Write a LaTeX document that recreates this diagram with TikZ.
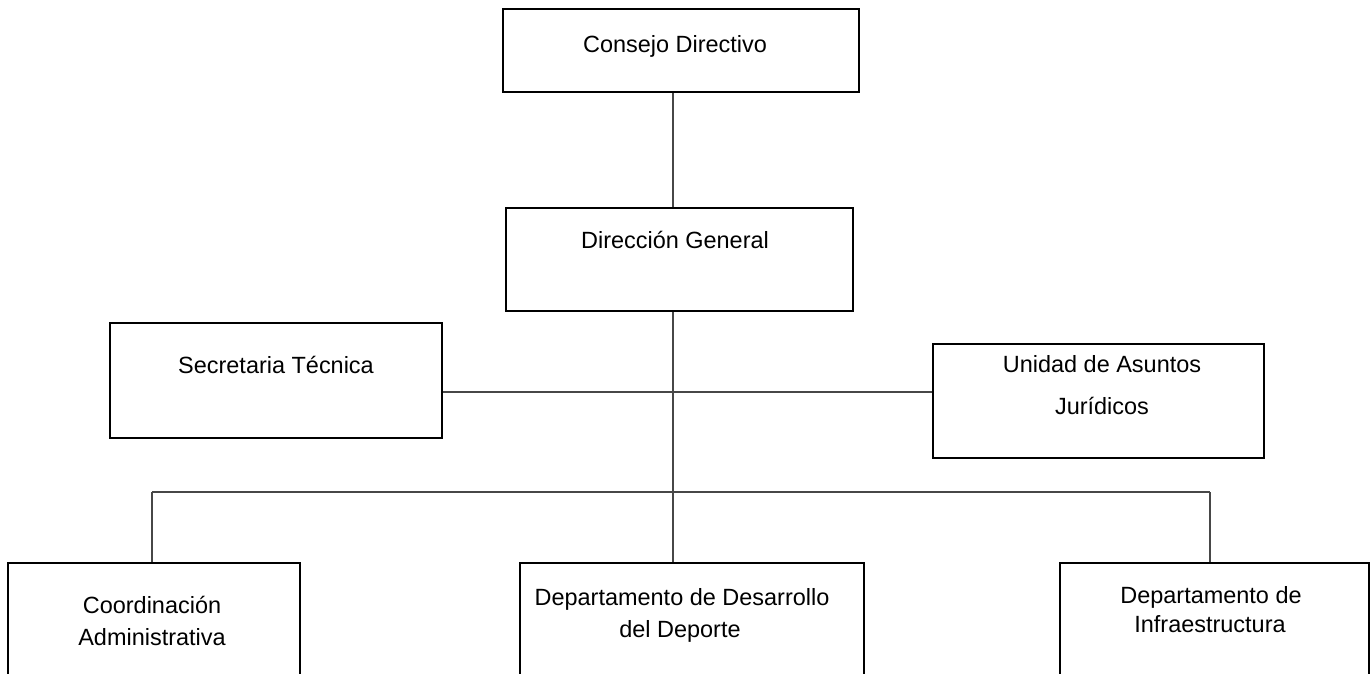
\documentclass[tikz,border=0pt]{standalone}
\usepackage{fontspec}
\setmainfont{Liberation Sans}
\begin{document}
\begin{tikzpicture}[x=0.75pt,y=-0.75pt,
  box/.style={draw=black,line width=1.5pt,inner sep=0pt,anchor=north west},
  lbl/.style={font=\fontsize{17.6pt}{23pt}\selectfont,align=center,inner sep=0pt,anchor=base},
  link/.style={draw=black!72,line width=1.1pt}]
\clip (0,0) rectangle (1370,674);

% boxes (top-left corner, size in px)
\node[box,minimum width=356*0.75pt,minimum height=83*0.75pt]  (cd) at (502,8) {};
\node[box,minimum width=347*0.75pt,minimum height=103*0.75pt] (dg) at (505,207) {};
\node[box,minimum width=332*0.75pt,minimum height=115*0.75pt] (st) at (109,322) {};
\node[box,minimum width=331*0.75pt,minimum height=114*0.75pt] (ua) at (932,343) {};
\node[box,minimum width=292*0.75pt,minimum height=160*0.75pt] (ca) at (7,562) {};
\node[box,minimum width=344*0.75pt,minimum height=160*0.75pt] (dd) at (519,562) {};
\node[box,minimum width=309*0.75pt,minimum height=160*0.75pt] (di) at (1059,562) {};

% labels
\node[lbl] (tcd) at (675,53) {Consejo Directivo};
\node[lbl] (tdg) at (675,248) {Dirección General};
\node[lbl] (tst) at (276,373) {Secretaria Técnica};
\node[lbl] (tua1) at (1102,372) {Unidad de Asuntos};
\node[lbl] (tua2) at (1102,414) {Jurídicos};
\node[lbl] (tca1) at (152,613) {Coordinación};
\node[lbl] (tca2) at (152,645) {Administrativa};
\node[lbl] (tdd1) at (682,605) {Departamento de Desarrollo};
\node[lbl] (tdd2) at (680,637) {del Deporte};
\node[lbl] (tdi1) at (1211,603) {Departamento de};
\node[lbl] (tdi2) at (1210,632) {Infraestructura};

% junction points of the connectors
\coordinate (jst) at (673,392);
\coordinate (jlow) at (673,492);
\coordinate (jl) at (152,492);
\coordinate (jr) at (1210,492);

% connectors
\draw[link] (cd.south -| jst) -- (dg.north -| jst);
\draw[link] (dg.south -| jst) -- (dd.north -| jst);
\draw[link] (st.east |- jst) -- (ua.west |- jst);
\draw[link] (jl) -- (jr);
\draw[link] (jl) -- (ca.north -| jl);
\draw[link] (jr) -- (di.north -| jr);
\end{tikzpicture}
\end{document}
